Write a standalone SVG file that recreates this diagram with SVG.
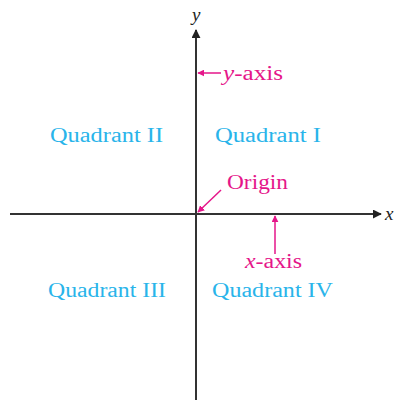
<svg xmlns="http://www.w3.org/2000/svg" width="395" height="400" viewBox="0 0 395 400">
<style>
.axis{stroke:#333;stroke-width:2;fill:none}
.ptr{stroke:#e5168a;stroke-width:1.5;fill:none}
.q{font-family:"Liberation Serif",serif;font-size:20px;fill:#29b4ea}
.m{font-family:"Liberation Serif",serif;font-size:20px;fill:#e5168a}
.lbl{font-family:"Liberation Serif",serif;font-size:19px;font-style:italic;fill:#222}
</style>
<defs>
<marker id="ah" viewBox="0 0 10 10" refX="9" refY="5" markerWidth="9" markerHeight="9" markerUnits="userSpaceOnUse" orient="auto"><path d="M0,0 L10,5 L0,10 z" fill="#222"/></marker>
<marker id="ph" viewBox="0 0 10 10" refX="9" refY="5" markerWidth="7" markerHeight="7" markerUnits="userSpaceOnUse" orient="auto"><path d="M0,0 L10,5 L0,10 z" fill="#e5168a"/></marker>
</defs>
<g id="connectors">
<line class="axis" x1="10" y1="214" x2="381" y2="214" marker-end="url(#ah)"/>
<line class="axis" x1="196" y1="400" x2="196" y2="30" marker-end="url(#ah)"/>
<line class="ptr" x1="221" y1="73" x2="198" y2="73" marker-end="url(#ph)"/>
<line class="ptr" x1="221" y1="190" x2="198" y2="212" marker-end="url(#ph)"/>
<line class="ptr" x1="275" y1="254" x2="275" y2="216" marker-end="url(#ph)"/>
</g>
<g id="axis-labels">
<text class="lbl" x="192" y="21">y</text>
<text class="lbl" x="385" y="220">x</text>
</g>
<g id="y-axis-label"><text class="m" x="223" y="80" textLength="60" lengthAdjust="spacingAndGlyphs"><tspan font-style="italic">y</tspan>-axis</text></g>
<g id="x-axis-label"><text class="m" x="245" y="268" textLength="57" lengthAdjust="spacingAndGlyphs"><tspan font-style="italic">x</tspan>-axis</text></g>
<g id="origin"><text class="m" x="227" y="189" textLength="61" lengthAdjust="spacingAndGlyphs">Origin</text></g>
<g id="quadrant-1"><text class="q" x="215" y="142" textLength="106" lengthAdjust="spacingAndGlyphs">Quadrant I</text></g>
<g id="quadrant-2"><text class="q" x="50" y="142" textLength="113" lengthAdjust="spacingAndGlyphs">Quadrant II</text></g>
<g id="quadrant-3"><text class="q" x="48" y="297" textLength="118" lengthAdjust="spacingAndGlyphs">Quadrant III</text></g>
<g id="quadrant-4"><text class="q" x="212" y="297" textLength="121" lengthAdjust="spacingAndGlyphs">Quadrant IV</text></g>
</svg>
